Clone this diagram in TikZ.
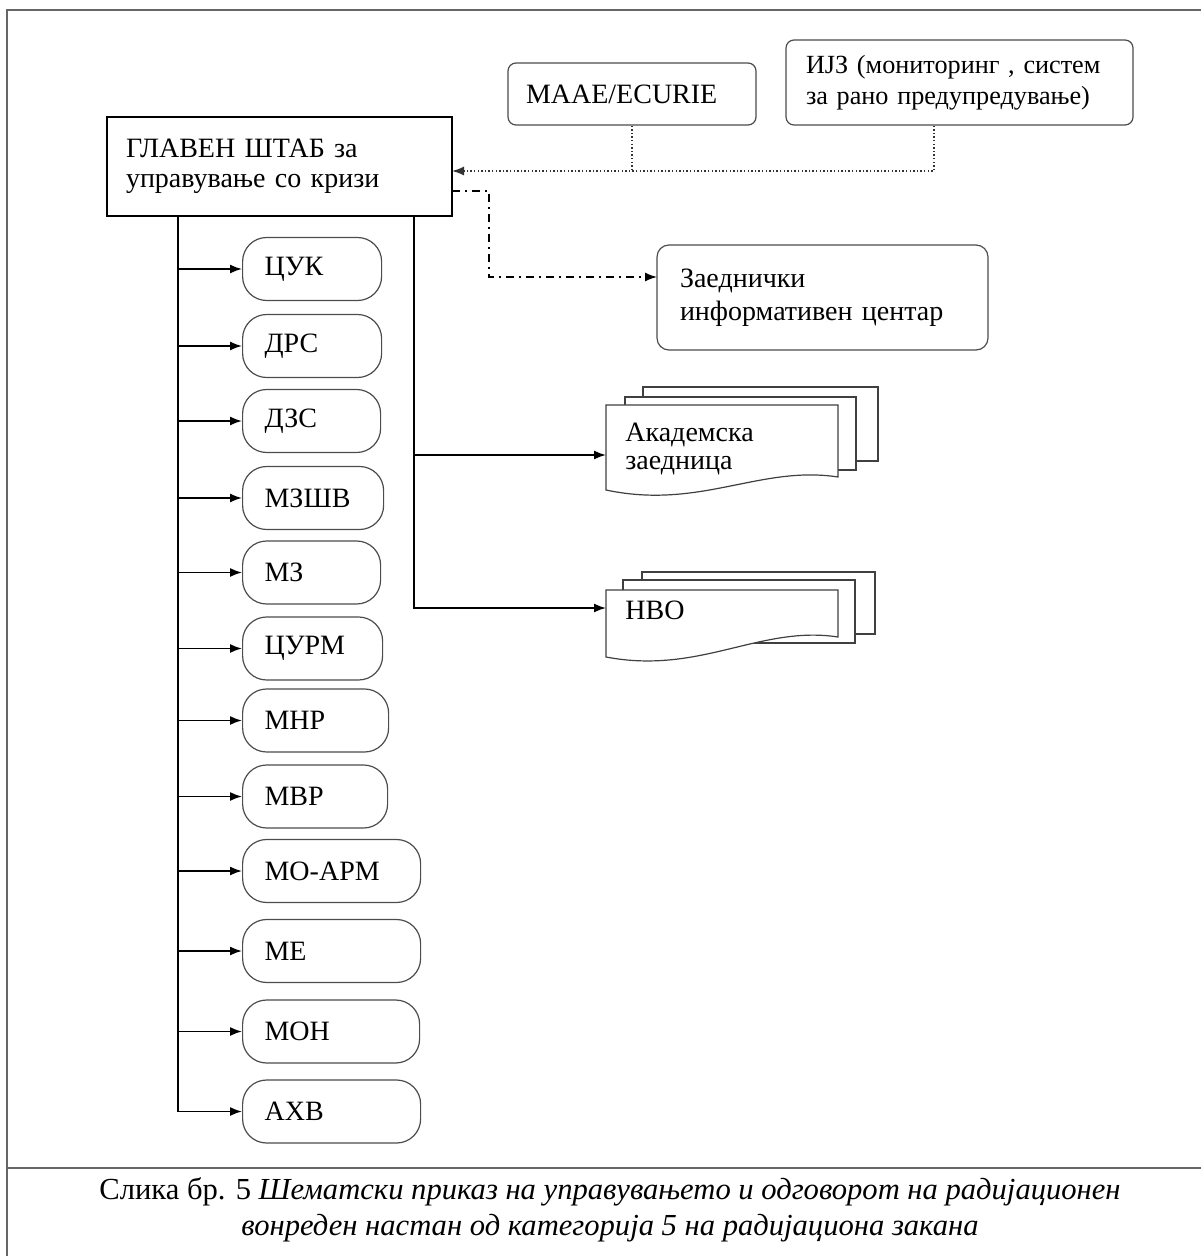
\documentclass[tikz,border=0pt]{standalone}
\usepackage{fontspec}
\setmainfont{Liberation Serif}
\usetikzlibrary{arrows.meta,calc}
\begin{document}
\begin{tikzpicture}[x=0.5pt,y=-0.5pt,
  every node/.style={font=\fontsize{14}{15}\selectfont, inner sep=0pt, text=black},
  framel/.style={draw=black!60, line width=0.6pt},
  mainbox/.style={draw=black, line width=1.4pt, align=left},
  unitbox/.style={draw=black!70, line width=0.6pt, rounded corners=12pt, minimum height=31.5pt, anchor=west, align=left, inner xsep=11pt},
  topbox/.style={draw=black!70, line width=0.6pt, rounded corners=4pt, align=left},
  sheet/.style={draw=black!75, line width=0.6pt, fill=white},
  conn/.style={draw=black, line width=0.8pt},
  tip/.style={-{Latex[length=6pt,width=4.5pt]}},
  arr/.style={conn, tip},
  dotline/.style={draw=black!80, line width=0.7pt, dash pattern=on 0.7pt off 1.1pt},
  dashdot/.style={draw=black, line width=0.7pt, dash pattern=on 4pt off 2.5pt on 1pt off 2.5pt},
  captxt/.style={font=\fontsize{15.3}{18}\selectfont, anchor=base}
]
\useasboundingbox (0,0) rectangle (1201,1256);

% frame
\draw[framel] (1201,10) -- (7,10) -- (7,1256);
\draw[framel] (7,1168) -- (1201,1168);

% main box
\node[mainbox, minimum width=172.5pt, minimum height=49.5pt, inner xsep=9.5pt, text width=153.5pt] (main) at (279.5,166.5)
  {ГЛАВЕН ШТАБ за\\управување со кризи};

% top boxes
\node[topbox, minimum width=124pt, minimum height=31pt, inner xsep=9pt, text width=106pt] (maae) at (632,94) {МААЕ/ECURIE};
\node[topbox, minimum width=173.5pt, minimum height=42.5pt, inner xsep=10pt, text width=153.5pt,
      font=\fontsize{13.1}{15.5}\selectfont] (ijz) at (959.5,82.5)
  {ИЈЗ (мониторинг , систем\\за рано предупредување)};
\node[topbox, rounded corners=6pt, minimum width=165.5pt, minimum height=52.5pt, inner xsep=11.5pt, text width=142.5pt,
      font=\fontsize{14}{16.5}\selectfont] (zaed) at (822.5,297.5)
  {Заеднички\\информативен центар};

% unit boxes
\node[unitbox, minimum width=69.5pt, text width=47.5pt] (cuk)   at (242,269)    {ЦУК};
\node[unitbox, minimum width=69.5pt, text width=47.5pt] (drs)   at (242,346)    {ДРС};
\node[unitbox, minimum width=69pt,   text width=47pt]   (dzs)   at (242,421)    {ДЗС};
\node[unitbox, minimum width=70.5pt, text width=48.5pt] (mzshv) at (242,498)    {МЗШВ};
\node[unitbox, minimum width=69pt,   text width=47pt]   (mz)    at (242,572.5)  {МЗ};
\node[unitbox, minimum width=70pt,   text width=48pt]   (curm)  at (242,648.5)  {ЦУРМ};
\node[unitbox, minimum width=73pt,   text width=51pt]   (mnr)   at (242,720.5)  {МНР};
\node[unitbox, minimum width=72.5pt, text width=50.5pt] (mvr)   at (242,796.5)  {МВР};
\node[unitbox, minimum width=89pt,   text width=67pt]   (moarm) at (242,871)    {МО-АРМ};
\node[unitbox, minimum width=89pt,   text width=67pt]   (me)    at (242,951)    {МЕ};
\node[unitbox, minimum width=88.5pt, text width=66.5pt] (mon)   at (242,1031.5) {МОН};
\node[unitbox, minimum width=89pt,   text width=67pt]   (ahv)   at (242,1111.5) {АХВ};

% multi-document: Академска заедница
\draw[sheet] (643,387) rectangle (878,461);
\draw[sheet] (625,397) rectangle (856,470);
\draw[sheet] (606,405) -- (838,405) -- (838,477) .. controls (760,465) and (700,510) .. (606,490) -- cycle;
\node[anchor=west, align=left, font=\fontsize{14}{14}\selectfont] (akadtxt) at (625,449) {Академска\\заедница};
\coordinate (akin) at (606,455);

% multi-document: НВО
\draw[sheet] (642,572) rectangle (875,634);
\draw[sheet] (623,580) rectangle (855,643);
\draw[sheet] (606,590) -- (838,590) -- (838,637) .. controls (760,625) and (700,675) .. (606,657) -- cycle;
\node[anchor=west] (nvotxt) at (625,610) {НВО};
\coordinate (nvoin) at (606,608);

% connector points
\coordinate (tl) at (178,216);
\coordinate (tr) at (414,216);
\coordinate (mainin) at (452,171);
\coordinate (mainout) at (452,191);
\coordinate (zturn) at (489,277);
\coordinate (zin) at (657,277);
\coordinate (ijzb) at ($(ijz.south west)!0.427!(ijz.south east)$);

% left trunk
\draw[arr] (tl) |- (ahv.west);
\foreach \n in {cuk,drs,dzs,mzshv,mz,curm,mnr,mvr,moarm,me,mon}
  \draw[arr] (tl |- \n.west) -- (\n.west);

% right trunk
\draw[arr] (tr) |- (nvoin);
\draw[arr] (tr |- akin) -- (akin);

% dotted feed into main
\draw[dotline] (maae.south) -- (maae.south |- mainin);
\draw[dotline, tip] (ijzb) |- (mainin);

% dash-dot to information centre
\draw[dashdot, tip] (mainout) -| (zturn) -- (zin);

% caption
\node[captxt] (cap1) at (610,1199) {Слика бр. 5 \textit{Шематски приказ на управувањето и одговорот на радијационен}};
\node[captxt] (cap2) at (610,1235) {\textit{вонреден настан од категорија 5 на радијациона закана}};
\end{tikzpicture}
\end{document}
